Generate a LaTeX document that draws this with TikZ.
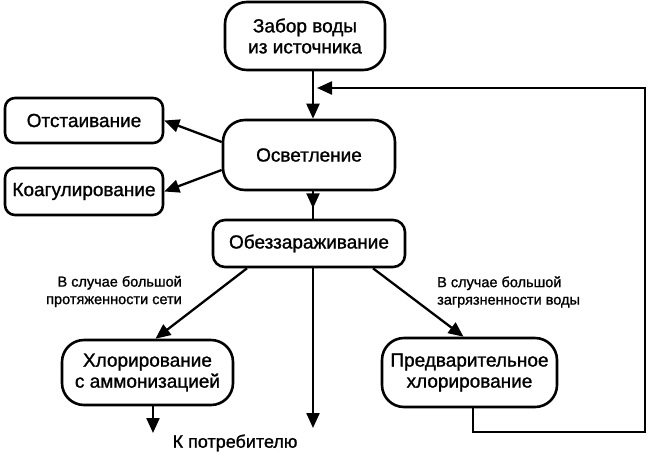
\documentclass[tikz,border=0pt]{standalone}
\usepackage{fontspec}
\setmainfont[FakeBold=1.2]{Liberation Sans}
\usetikzlibrary{arrows.meta,calc}
\begin{document}
\begin{tikzpicture}[x=1pt,y=-1pt,
  box/.style={draw, line width=2.6pt, align=center, inner sep=0pt, font=\fontsize{19}{21}\selectfont},
  arr/.style={line width=2.3pt, -{Triangle[length=15pt,width=13pt]}},
  ln/.style={line width=2.3pt},
  lbl/.style={font=\fontsize{14.5}{17.5}\selectfont, inner sep=0pt}]
\useasboundingbox (0,0) rectangle (650,453);
\fill[white] (0,0) rectangle (650,453);
% nodes
\node[box, rounded corners=22pt, minimum width=160pt, minimum height=68pt] (zabor) at (305,36) {Забор воды\\из источника};
\node[box, rounded corners=22pt, minimum width=172pt, minimum height=70pt] (osv) at (309,155) {Осветление};
\node[box, rounded corners=10pt, minimum width=158pt, minimum height=45pt] (otst) at (84,120.5) {Отстаивание};
\node[box, rounded corners=10pt, minimum width=158pt, minimum height=47pt] (koag) at (84,191.5) {Коагулирование};
\node[box, rounded corners=12pt, minimum width=192pt, minimum height=47pt] (obez) at (309,243.5) {Обеззараживание};
\node[box, rounded corners=22pt, minimum width=171pt, minimum height=65pt] (hlor) at (147.5,372.5) {Хлорирование\\с аммонизацией};
\node[box, rounded corners=22pt, minimum width=175pt, minimum height=69pt] (pred) at (469.5,372.5) {Предварительное\\хлорирование};
% labels
\node[lbl, anchor=east, align=right] (l1) at (182,291.5) {В случае большой\\протяженности сети};
\node[lbl, anchor=west, align=left] (l2) at (437,292) {В случае большой\\загрязненности воды};
\node[font=\fontsize{18}{20}\selectfont, inner sep=0pt] (kpot) at (235,443) {К потребителю};
% free ends
\coordinate (trunk) at (313,0);
\coordinate (cons) at (313,428);
\coordinate (hlorend) at (153,433);
\coordinate (fb1) at (473,432);
\coordinate (fb2) at (645,432);
\coordinate (fb3) at (645,88);
\coordinate (fbin) at (317,88);
% connectors
\draw[arr] (zabor.south -| trunk) -- (osv.north -| trunk);
\draw[arr] (fb1 |- pred.south) -- (fb1) -- (fb2) -- (fb3) -- (fbin);
\draw[arr] ($(osv.west)+(0,-13)$) -- (otst.east);
\draw[arr] ($(osv.west)+(0,15)$) -- (koag.east);
\draw[ln] (osv.south -| trunk) -- (obez.north -| trunk);
\draw[arr] (osv.south -| trunk) -- ++(0,17);
\draw[arr] ($(obez.south)+(-62,0)$) -- ($(hlor.north)+(8,0)$);
\draw[arr] ($(obez.south)+(64,0)$) -- ($(pred.north)+(-6,0)$);
\draw[arr] (obez.south -| trunk) -- (cons);
\draw[arr] ($(hlor.south)+(5.5,0)$) -- (hlorend);
\end{tikzpicture}
\end{document}
